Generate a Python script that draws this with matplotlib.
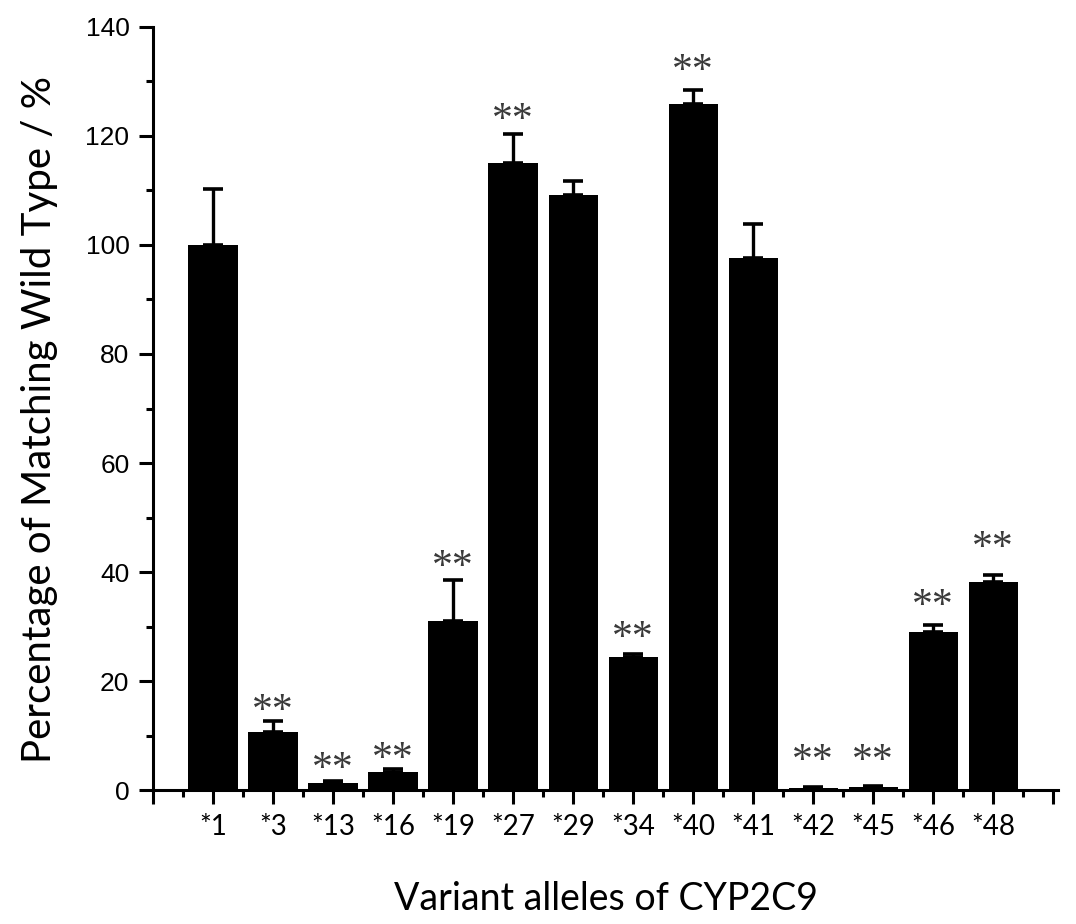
import matplotlib

matplotlib.use("Agg")
import matplotlib.pyplot as plt
import numpy as np
from matplotlib.ticker import MultipleLocator

alleles = ["*1", "*3", "*13", "*16", "*19", "*27", "*29", "*34", "*40", "*41", "*42", "*45", "*46", "*48"]
means = [100.0, 10.6, 1.2, 3.3, 31.0, 115.0, 109.2, 24.4, 125.9, 97.6, 0.3, 0.6, 29.0, 38.2]
upper_err = [10.3, 2.0, 0.5, 0.6, 7.5, 5.4, 2.5, 0.6, 2.5, 6.3, 0.2, 0.2, 1.3, 1.2]
significant = [False, True, True, True, True, True, False, True, True, False, True, True, True, True]
star_pos = [None, 16.5, 6.0, 7.7, 43.0, 125.0, None, 30.0, 134.0, None, 7.3, 7.3, 35.8, 46.4]

fig = plt.figure(figsize=(10.76, 9.24), dpi=100)
ax = fig.add_axes([0.1422, 0.145, 0.8411, 0.8258])

x = np.arange(1, len(alleles) + 1)
ax.bar(x, means, width=0.82, color="black", zorder=2)
ax.errorbar(x, means, yerr=[np.zeros(len(means)), upper_err], fmt="none",
            ecolor="black", elinewidth=2.4, capsize=7, capthick=2.6, zorder=3)

for xi, sig, sy in zip(x, significant, star_pos):
    if sig:
        ax.text(xi, sy - 2.2, "**", ha="center", va="center", fontsize=30,
                family="Liberation Serif", color="#3a3a3a")

ax.set_xlim(0, 15.08)
ax.set_ylim(0, 140)
ax.spines["top"].set_visible(False)
ax.spines["right"].set_visible(False)
for s in ("left", "bottom"):
    ax.spines[s].set_linewidth(2.2)

ax.set_xticks(np.arange(0, 16))
ax.set_xticklabels([""] + alleles + [""], family="Lato", fontsize=20)
ax.xaxis.set_minor_locator(MultipleLocator(0.5))
ax.yaxis.set_major_locator(MultipleLocator(20))
ax.yaxis.set_minor_locator(MultipleLocator(10))
ax.tick_params(which="major", length=10, width=2.2, direction="out", pad=7)
ax.tick_params(which="minor", length=5, width=2.2, direction="out")
for lab in ax.get_yticklabels():
    lab.set_family("Liberation Sans")
    lab.set_fontsize(19)

ax.set_xlabel("Variant alleles of CYP2C9", family="Lato", fontsize=27, labelpad=30)
ax.set_ylabel("Percentage of Matching Wild Type / %", family="Lato", fontsize=29)
ax.yaxis.set_label_coords(-0.105, 0.485)

fig.savefig("out.png", dpi=100)
